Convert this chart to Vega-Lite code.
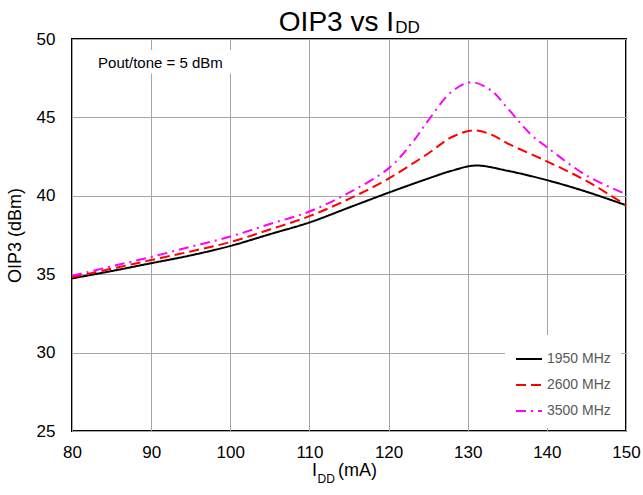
{
  "$schema": "https://vega.github.io/schema/vega-lite/v6.json",
  "width": 554,
  "height": 392,
  "autosize": {"type": "none"},
  "padding": {"left": 72, "top": 39, "right": 17, "bottom": 64},
  "title": {
    "text": "OIP3 vs I",
    "anchor": "end",
    "frame": "group",
    "dx": -232,
    "dy": 21,
    "offset": 3,
    "fontSize": 28,
    "fontWeight": "normal",
    "color": "black"
  },
  "config": {
    "font": "Liberation Sans",
    "view": {"stroke": "black", "strokeWidth": 2},
    "axis": {
      "domain": false,
      "ticks": false,
      "grid": true,
      "labelFlush": false,
      "gridColor": "#a6a6a6",
      "gridWidth": 1,
      "gridOpacity": 1,
      "labelFontSize": 17,
      "labelColor": "black",
      "titleFontSize": 18,
      "titleFontWeight": "normal",
      "titleColor": "black"
    }
  },
  "layer": [
    {
      "data": {
        "values": [
          {"idd": 80, "oip3": 34.73, "freq": "1950 MHz"},
          {"idd": 85, "oip3": 35.2, "freq": "1950 MHz"},
          {"idd": 90, "oip3": 35.7, "freq": "1950 MHz"},
          {"idd": 95, "oip3": 36.2, "freq": "1950 MHz"},
          {"idd": 100, "oip3": 36.8, "freq": "1950 MHz"},
          {"idd": 105, "oip3": 37.55, "freq": "1950 MHz"},
          {"idd": 110, "oip3": 38.3, "freq": "1950 MHz"},
          {"idd": 115, "oip3": 39.25, "freq": "1950 MHz"},
          {"idd": 120, "oip3": 40.2, "freq": "1950 MHz"},
          {"idd": 125, "oip3": 41.1, "freq": "1950 MHz"},
          {"idd": 128, "oip3": 41.6, "freq": "1950 MHz"},
          {"idd": 131, "oip3": 41.93, "freq": "1950 MHz"},
          {"idd": 135, "oip3": 41.6, "freq": "1950 MHz"},
          {"idd": 140, "oip3": 41.0, "freq": "1950 MHz"},
          {"idd": 145, "oip3": 40.26, "freq": "1950 MHz"},
          {"idd": 150, "oip3": 39.4, "freq": "1950 MHz"},

          {"idd": 80, "oip3": 34.8, "freq": "2600 MHz"},
          {"idd": 85, "oip3": 35.35, "freq": "2600 MHz"},
          {"idd": 90, "oip3": 35.9, "freq": "2600 MHz"},
          {"idd": 95, "oip3": 36.45, "freq": "2600 MHz"},
          {"idd": 100, "oip3": 37.05, "freq": "2600 MHz"},
          {"idd": 105, "oip3": 37.85, "freq": "2600 MHz"},
          {"idd": 110, "oip3": 38.7, "freq": "2600 MHz"},
          {"idd": 115, "oip3": 39.8, "freq": "2600 MHz"},
          {"idd": 120, "oip3": 41.1, "freq": "2600 MHz"},
          {"idd": 125, "oip3": 42.7, "freq": "2600 MHz"},
          {"idd": 128, "oip3": 43.75, "freq": "2600 MHz"},
          {"idd": 130.7, "oip3": 44.17, "freq": "2600 MHz"},
          {"idd": 133, "oip3": 43.9, "freq": "2600 MHz"},
          {"idd": 135, "oip3": 43.35, "freq": "2600 MHz"},
          {"idd": 140, "oip3": 42.2, "freq": "2600 MHz"},
          {"idd": 145, "oip3": 40.95, "freq": "2600 MHz"},
          {"idd": 150, "oip3": 39.4, "freq": "2600 MHz"},

          {"idd": 80, "oip3": 34.9, "freq": "3500 MHz"},
          {"idd": 85, "oip3": 35.5, "freq": "3500 MHz"},
          {"idd": 90, "oip3": 36.1, "freq": "3500 MHz"},
          {"idd": 95, "oip3": 36.75, "freq": "3500 MHz"},
          {"idd": 100, "oip3": 37.4, "freq": "3500 MHz"},
          {"idd": 105, "oip3": 38.2, "freq": "3500 MHz"},
          {"idd": 110, "oip3": 39.0, "freq": "3500 MHz"},
          {"idd": 115, "oip3": 40.2, "freq": "3500 MHz"},
          {"idd": 120, "oip3": 41.75, "freq": "3500 MHz"},
          {"idd": 123, "oip3": 43.4, "freq": "3500 MHz"},
          {"idd": 125, "oip3": 44.8, "freq": "3500 MHz"},
          {"idd": 128, "oip3": 46.65, "freq": "3500 MHz"},
          {"idd": 130.5, "oip3": 47.24, "freq": "3500 MHz"},
          {"idd": 133, "oip3": 46.7, "freq": "3500 MHz"},
          {"idd": 135, "oip3": 45.6, "freq": "3500 MHz"},
          {"idd": 138, "oip3": 43.9, "freq": "3500 MHz"},
          {"idd": 140, "oip3": 43.1, "freq": "3500 MHz"},
          {"idd": 145, "oip3": 41.3, "freq": "3500 MHz"},
          {"idd": 150, "oip3": 40.1, "freq": "3500 MHz"}
        ]
      },
      "mark": {"type": "line", "strokeWidth": 2, "interpolate": "catmull-rom"},
      "encoding": {
        "x": {
          "field": "idd",
          "type": "quantitative",
          "scale": {"domain": [80, 150], "nice": false, "zero": false},
          "axis": {"values": [80, 90, 100, 110, 120, 130, 140, 150], "title": null, "labelPadding": 13}
        },
        "y": {
          "field": "oip3",
          "type": "quantitative",
          "scale": {"domain": [25, 50], "nice": false, "zero": false},
          "axis": {"values": [25, 30, 35, 40, 45, 50], "title": "OIP3 (dBm)", "labelPadding": 17, "titlePadding": 12}
        },
        "color": {
          "field": "freq",
          "type": "nominal",
          "scale": {"domain": ["1950 MHz", "2600 MHz", "3500 MHz"], "range": ["black", "#ff0000", "#ff00ff"]},
          "legend": {
            "title": null,
            "orient": "none",
            "legendX": 433,
            "legendY": 296,
            "fillColor": "white",
            "padding": 10,
            "labelColor": "#595959",
            "labelFontSize": 14,
            "labelOffset": 4,
            "symbolSize": 676,
            "symbolStrokeWidth": 2,
            "rowPadding": 5
          }
        },
        "strokeDash": {
          "field": "freq",
          "type": "nominal",
          "scale": {"domain": ["1950 MHz", "2600 MHz", "3500 MHz"], "range": [[1, 0], [10, 5], [10, 5, 2, 5]]},
          "legend": {
            "title": null,
            "orient": "none",
            "legendX": 433,
            "legendY": 296,
            "fillColor": "white",
            "padding": 10,
            "labelColor": "#595959",
            "labelFontSize": 14,
            "labelOffset": 4,
            "symbolSize": 676,
            "symbolStrokeWidth": 2,
            "rowPadding": 5
          }
        }
      }
    },
    {
      "data": {"values": [{}]},
      "mark": {"type": "rect", "fill": "white"},
      "encoding": {
        "x": {"datum": 82.9, "type": "quantitative", "scale": {"domain": [80, 150], "nice": false, "zero": false}},
        "x2": {"datum": 101.2},
        "y": {"datum": 49.3, "type": "quantitative", "scale": {"domain": [25, 50], "nice": false, "zero": false}},
        "y2": {"datum": 47.8}
      }
    },
    {
      "data": {"values": [{}]},
      "mark": {"type": "text", "text": "Pout/tone = 5 dBm", "align": "left", "baseline": "alphabetic", "fontSize": 15, "color": "black"},
      "encoding": {
        "x": {"datum": 83.3, "type": "quantitative", "scale": {"domain": [80, 150], "nice": false, "zero": false}},
        "y": {"datum": 48.17, "type": "quantitative", "scale": {"domain": [25, 50], "nice": false, "zero": false}}
      }
    },
    {
      "data": {"values": [{}]},
      "mark": {"type": "text", "text": "DD", "align": "left", "baseline": "alphabetic", "fontSize": 17, "color": "black"},
      "encoding": {
        "x": {"datum": 120.85, "type": "quantitative", "scale": {"domain": [80, 150], "nice": false, "zero": false}},
        "y": {"datum": 50.36, "type": "quantitative", "scale": {"domain": [25, 50], "nice": false, "zero": false}}
      }
    },
    {
      "data": {"values": [{}]},
      "mark": {"type": "text", "text": "I", "align": "right", "baseline": "alphabetic", "fontSize": 18, "color": "black"},
      "encoding": {
        "x": {"datum": 110.96, "type": "quantitative", "scale": {"domain": [80, 150], "nice": false, "zero": false}},
        "y": {"datum": 22.13, "type": "quantitative", "scale": {"domain": [25, 50], "nice": false, "zero": false}}
      }
    },
    {
      "data": {"values": [{}]},
      "mark": {"type": "text", "text": "DD", "align": "left", "baseline": "alphabetic", "fontSize": 12, "color": "black"},
      "encoding": {
        "x": {"datum": 111.02, "type": "quantitative", "scale": {"domain": [80, 150], "nice": false, "zero": false}},
        "y": {"datum": 21.68, "type": "quantitative", "scale": {"domain": [25, 50], "nice": false, "zero": false}}
      }
    },
    {
      "data": {"values": [{}]},
      "mark": {"type": "text", "text": "(mA)", "align": "left", "baseline": "alphabetic", "fontSize": 18, "color": "black"},
      "encoding": {
        "x": {"datum": 113.6, "type": "quantitative", "scale": {"domain": [80, 150], "nice": false, "zero": false}},
        "y": {"datum": 22.13, "type": "quantitative", "scale": {"domain": [25, 50], "nice": false, "zero": false}}
      }
    }
  ]
}
